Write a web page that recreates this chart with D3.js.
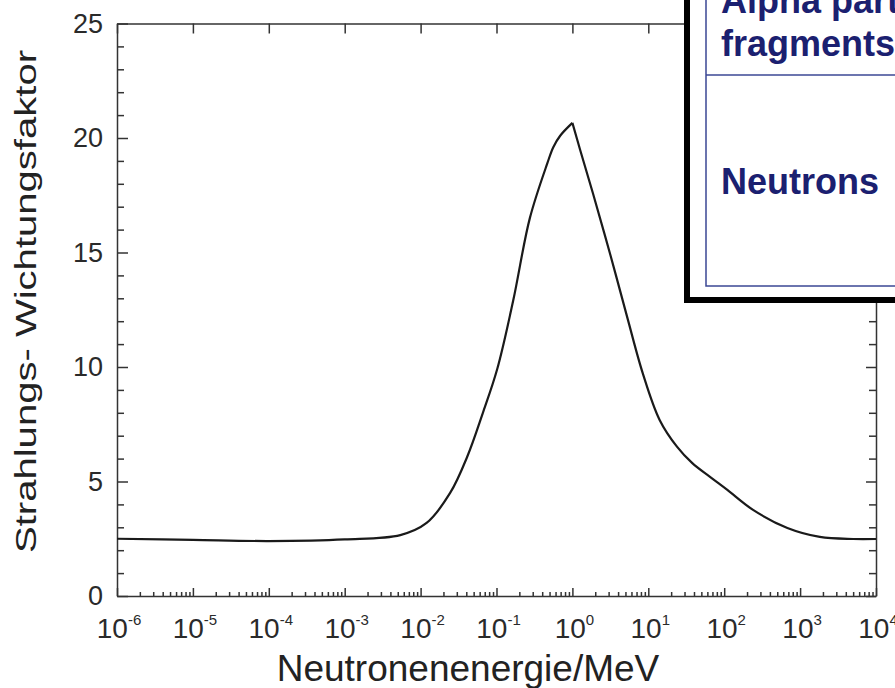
<!DOCTYPE html>
<html>
<head>
<meta charset="utf-8">
<script src="https://cdn.jsdelivr.net/npm/d3@7"></script>
<style>
  body { margin: 0; background: #fff; }
  svg { display: block; font-family: "Liberation Sans", Arial, sans-serif; }
  .axis path, .axis line { stroke: #333; stroke-width: 1.5; }
</style>
</head>
<body>
<div id="chart"></div>
<script>
// Neutron energy in MeV and the weighting factor
const energyMeV = [1e-6, 1e-5, 1e-4, 1e-3, 5.4e-3, 1.2e-2, 2.45e-2, 4.1e-2, 6.6e-2, 0.102, 0.166, 0.275, 0.468, 0.56, 0.69, 1.0,
  1.26, 1.86, 3.16, 5.25, 8.5, 14.1, 24, 38, 65, 110, 240, 680, 1820, 5000, 1e4];
const weightFactor = [2.5, 2.45, 2.4, 2.47, 2.66, 3.19, 4.5, 6.07, 7.99, 9.9, 12.9, 16.5, 18.9, 19.6, 20.1, 20.66,
  19.5, 17.6, 14.9, 12.2, 9.7, 7.69, 6.51, 5.8, 5.2, 4.63, 3.76, 2.97, 2.58, 2.49, 2.49];

const yTicks = [0, 5, 10, 15, 20, 25];
const decadeExponents = [-6, -5, -4, -3, -2, -1, 0, 1, 2, 3, 4];
const legendLines = ["Alpha particles, fission", "fragments, heavy ions"];
const legendNeutrons = "Neutrons";

const W = 895, H = 688;
const margin = { top: 23.5, right: 19, bottom: 92, left: 117 };
const width = W - margin.left - margin.right;
const height = H - margin.top - margin.bottom;

const svg = d3.select("#chart").append("svg").attr("width", W).attr("height", H);
const g = svg.append("g").attr("transform", `translate(${margin.left},${margin.top})`);

const x = d3.scaleLog().domain([1e-6, 1e4]).range([0, width]);
const y = d3.scaleLinear().domain([0, 25]).range([height, 0]);

const decades = decadeExponents.map((e) => Math.pow(10, e));
let minorX = [];
decadeExponents.slice(0, -1).forEach((e) => {
  for (let m = 2; m <= 9; m++) minorX.push(m * Math.pow(10, e));
});
const minorY = d3.range(1, 25).filter((v) => v % 5 !== 0);

// bottom axis: major + minor ticks pointing inward
g.append("g").attr("class", "axis").attr("transform", `translate(0,${height})`)
  .call(d3.axisBottom(x).tickValues(decades).tickSize(-8).tickSizeOuter(0).tickFormat(""));
g.append("g").attr("class", "axis").attr("transform", `translate(0,${height})`)
  .call(d3.axisBottom(x).tickValues(minorX).tickSize(-4).tickSizeOuter(0).tickFormat(""))
  .select(".domain").remove();

// top axis: majors only
g.append("g").attr("class", "axis")
  .call(d3.axisTop(x).tickValues(decades).tickSize(-10).tickSizeOuter(0).tickFormat(""));

// left axis with labels
const yAxisG = g.append("g").attr("class", "axis")
  .call(d3.axisLeft(y).tickValues(yTicks).tickSize(-11).tickSizeOuter(0).tickPadding(14));
yAxisG.selectAll(".tick text").attr("font-size", 27).attr("fill", "#2a2a2a").attr("font-family", "Liberation Sans, Arial, sans-serif");
g.append("g").attr("class", "axis")
  .call(d3.axisLeft(y).tickValues(minorY).tickSize(-7).tickFormat(""))
  .select(".domain").remove();

// right axis
g.append("g").attr("class", "axis").attr("transform", `translate(${width},0)`)
  .call(d3.axisRight(y).tickValues(yTicks).tickSize(-10).tickSizeOuter(0).tickFormat(""));
g.append("g").attr("class", "axis").attr("transform", `translate(${width},0)`)
  .call(d3.axisRight(y).tickValues(minorY).tickSize(-7).tickFormat(""))
  .select(".domain").remove();

// x tick labels 10^n
const xLabels = g.append("g").selectAll("text").data(decadeExponents).join("text")
  .attr("x", (d) => x(Math.pow(10, d)) + 2)
  .attr("y", height + 42)
  .attr("text-anchor", "middle")
  .attr("fill", "#2a2a2a")
  .attr("font-size", 28);
xLabels.append("tspan").text("10");
xLabels.append("tspan").attr("dy", -13).attr("font-size", 15).text((d) => (d < 0 ? "-" : "") + Math.abs(d));

// curve, split at the peak so the cusp stays sharp
const points = energyMeV.map((e, i) => ({ e: e, w: weightFactor[i] }));
const peak = d3.maxIndex(points, (d) => d.w);
const line = d3.line().x((d) => x(d.e)).y((d) => y(d.w)).curve(d3.curveCatmullRom.alpha(0.5));
g.selectAll("path.curve").data([points.slice(0, peak + 1), points.slice(peak)]).join("path")
  .attr("class", "curve")
  .attr("fill", "none")
  .attr("stroke", "#1a1a1a")
  .attr("stroke-width", 2.2)
  .attr("stroke-linejoin", "round")
  .attr("d", line);

// axis titles
svg.append("text")
  .attr("x", 468).attr("y", 681)
  .attr("text-anchor", "middle")
  .attr("font-size", 37)
  .attr("fill", "#222")
  .text("Neutronenenergie/MeV");

svg.append("text")
  .attr("transform", "translate(36,301.5) rotate(-90)")
  .attr("text-anchor", "middle")
  .attr("font-size", 29)
  .attr("fill", "#222")
  .attr("textLength", 503)
  .attr("lengthAdjust", "spacingAndGlyphs")
  .text("Strahlungs- Wichtungsfaktor");

// table box overlapping the top right corner
const box = svg.append("g");
box.append("rect").attr("x", 687).attr("y", -20).attr("width", 300).attr("height", 320)
  .attr("fill", "#fff").attr("stroke", "#000").attr("stroke-width", 6);
box.append("rect").attr("x", 706).attr("y", -20).attr("width", 300).attr("height", 306)
  .attr("fill", "none").attr("stroke", "#3b4794").attr("stroke-width", 1.5);
box.append("line").attr("x1", 706).attr("x2", 900).attr("y1", 75).attr("y2", 75)
  .attr("stroke", "#3b4794").attr("stroke-width", 1.5);
box.selectAll("text.alpha").data(legendLines).join("text")
  .attr("class", "alpha")
  .attr("x", 721).attr("y", (d, i) => 13 + i * 43)
  .attr("font-size", 36).attr("font-weight", "bold").attr("fill", "#1b2070")
  .text((d) => d);
box.append("text")
  .attr("x", 721).attr("y", 194)
  .attr("font-size", 36).attr("font-weight", "bold").attr("fill", "#1b2070")
  .text(legendNeutrons);
</script>
</body>
</html>
